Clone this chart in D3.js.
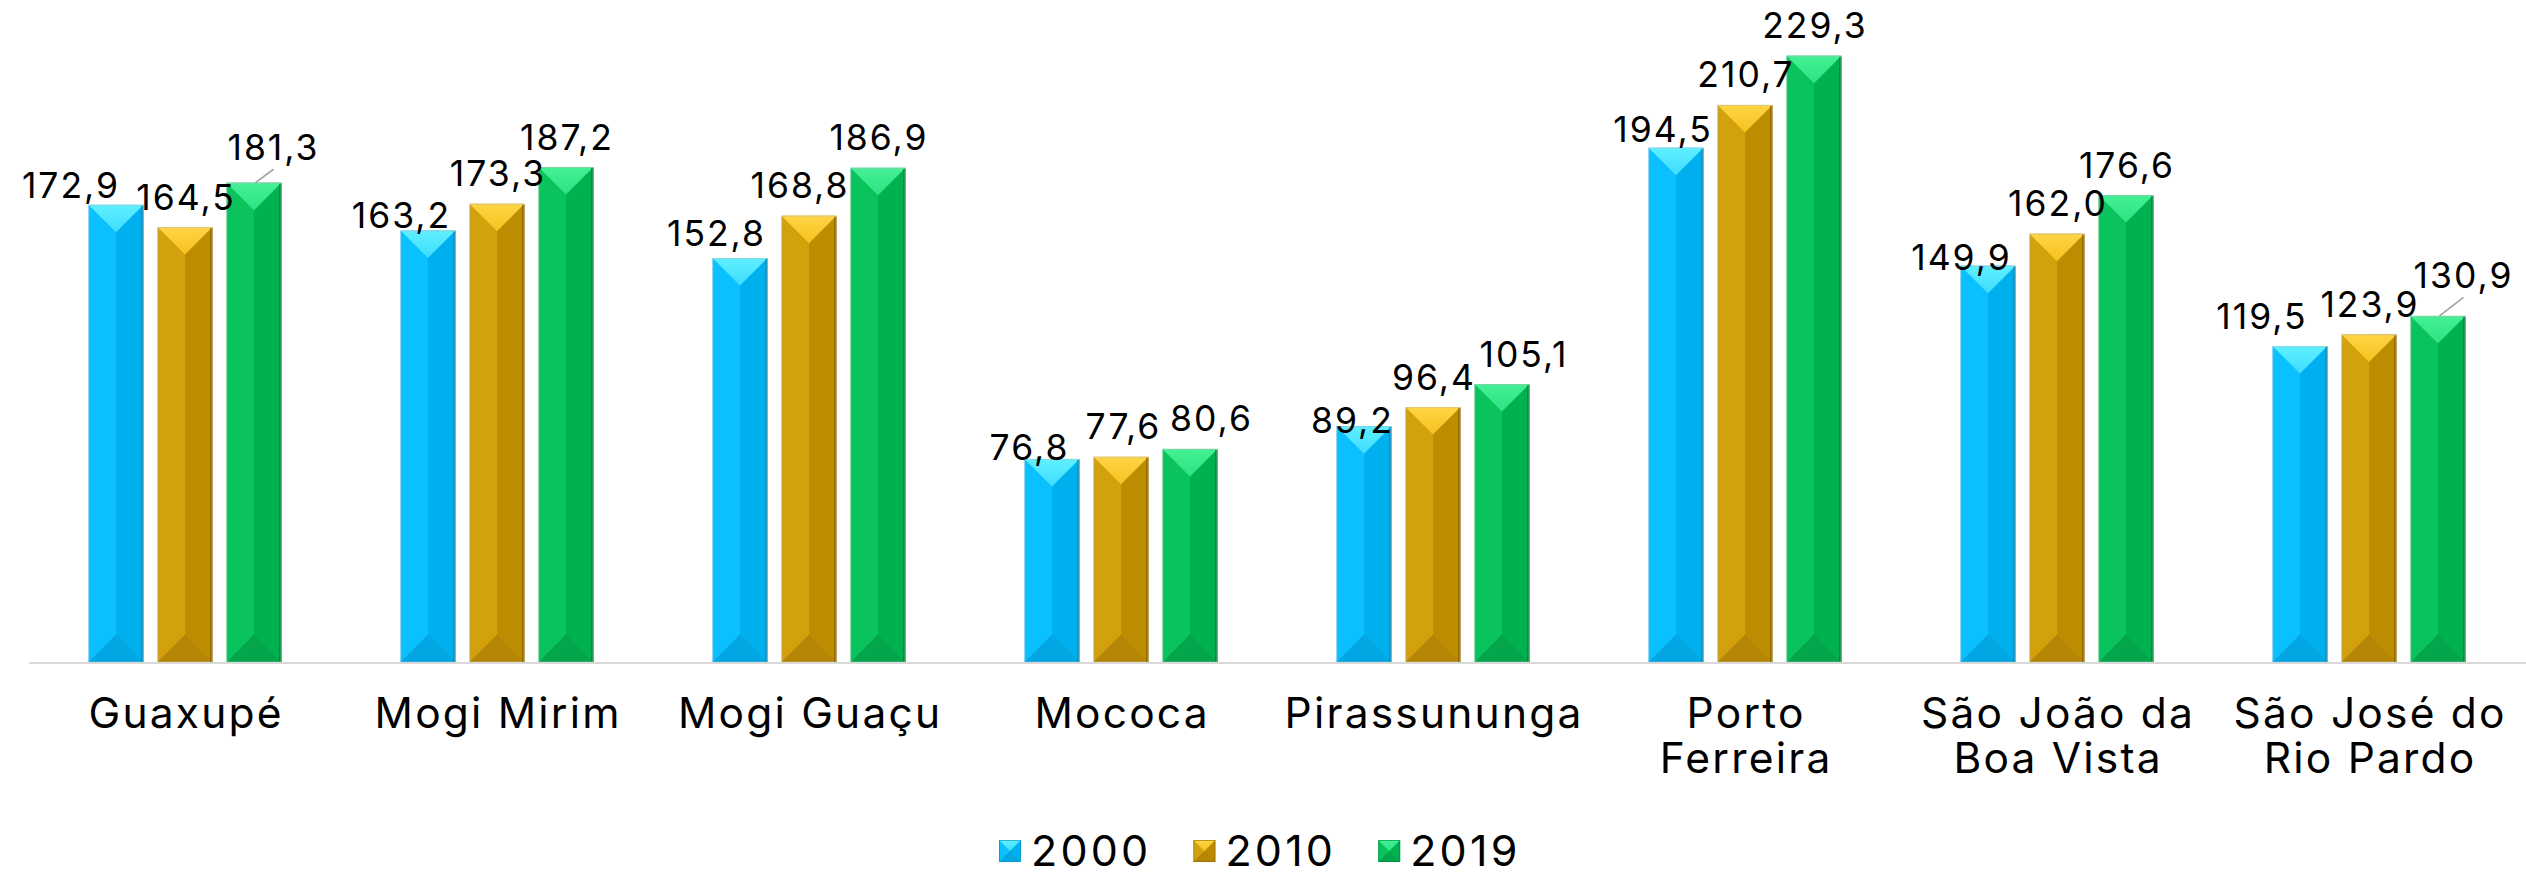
<!DOCTYPE html>
<html>
<head>
<meta charset="utf-8">
<script src="https://cdn.jsdelivr.net/npm/d3@7"></script>
<style>
  html, body { margin: 0; padding: 0; background: #ffffff; }
  svg { display: block; }
  text { font-family: Inter, "Noto Sans", sans-serif; fill: #000; }
</style>
</head>
<body>
<svg id="chart" width="2526" height="875"></svg>
<script>
// ---------------- data ----------------
const categories = ["Guaxupé", "Mogi Mirim", "Mogi Guaçu", "Mococa", "Pirassununga",
                    "Porto Ferreira", "São João da Boa Vista", "São José do Rio Pardo"];
const tickLabels = [["Guaxupé"], ["Mogi Mirim"], ["Mogi Guaçu"], ["Mococa"], ["Pirassununga"],
                    ["Porto", "Ferreira"], ["São João da", "Boa Vista"], ["São José do", "Rio Pardo"]];
const series = ["2000", "2010", "2019"];
const values2000 = [172.9, 163.2, 152.8, 76.8, 89.2, 194.5, 149.9, 119.5];
const values2010 = [164.5, 173.3, 168.8, 77.6, 96.4, 210.7, 162.0, 123.9];
const values2019 = [181.3, 187.2, 186.9, 80.6, 105.1, 229.3, 176.6, 130.9];
const seriesValues = [values2000, values2010, values2019];

// label nudges (dx, dy) away from the default centered position, and leader lines
const labelNudge2000 = [[-46, 10.5], [-27.5, 15], [-24.5, 6], [-23.5, 18.5], [-12.5, 24.5], [-14, 11.3], [-27.5, 21.5], [-39, 0]];
const labelNudge2010 = [[0, 0], [0, 0], [-10, 0], [1.5, 0], [0, 0], [0, 0], [0, 0], [0, 0]];
const labelNudge2019 = [[18.5, -5.3], [0, 0], [0, 0], [20.5, 0], [21, 0], [0, 0], [0, 0], [24.5, -10.5]];
const labelNudges = [labelNudge2000, labelNudge2010, labelNudge2019];
const leaders2019 = [true, false, false, false, false, false, false, true];

// ---------------- styles ----------------
const shades = {
  "2000": { top: "#3fdcff", topHi: "#5ff0ff", left: "#0bc0ff", right: "#00b0ee", bottom: "#02a6e2", edge: "#0a8cbd" },
  "2010": { top: "#f7c21f", topHi: "#ffd445", left: "#d3a10b", right: "#bd8c00", bottom: "#b58606", edge: "#8a6700" },
  "2019": { top: "#2ee283", topHi: "#45f095", left: "#0bc35c", right: "#00b150", bottom: "#03a64b", edge: "#00853a" }
};

const W = 2526, H = 875;
const svg = d3.select("#chart");

const x0 = d3.scaleBand().domain(categories).range([29, 2525]).paddingInner(0).paddingOuter(0);
const x1 = d3.scaleBand().domain(series).range([0, x0.bandwidth()])
  .paddingInner(14 / 69).paddingOuter(0.8623);
const y = d3.scaleLinear().domain([0, 250]).range([662, 1]);

// gradients for the top facets
const defs = svg.append("defs");
series.forEach(s => {
  const g = defs.append("linearGradient").attr("id", "top" + s)
    .attr("x1", 0).attr("y1", 0).attr("x2", 0).attr("y2", 1);
  g.append("stop").attr("offset", "0%").attr("stop-color", shades[s].topHi);
  g.append("stop").attr("offset", "100%").attr("stop-color", shades[s].top);
});

// ---------------- bars ----------------
const rows = [];
categories.forEach((c, i) => {
  series.forEach((s, j) => {
    rows.push({ cat: c, ser: s, i, j, v: seriesValues[j][i], nudge: labelNudges[j][i],
                leader: j === 2 && leaders2019[i] });
  });
});

const gBars = svg.append("g");
const bar = gBars.selectAll("g.bar").data(rows).join("g").attr("class", "bar");

bar.each(function (d) {
  const g = d3.select(this);
  const bx = x0(d.cat) + x1(d.ser);
  const bw = x1.bandwidth();
  const top = y(d.v), bot = y(0);
  const h = bot - top;
  const b = Math.min(bw / 2, h / 2);
  const cx = bx + bw / 2;
  const sh = shades[d.ser];
  g.append("rect").attr("x", bx).attr("y", top).attr("width", bw / 2).attr("height", h).attr("fill", sh.left);
  g.append("rect").attr("x", cx).attr("y", top).attr("width", bw / 2).attr("height", h).attr("fill", sh.right);
  g.append("path").attr("d", `M${bx},${top}L${bx + bw},${top}L${cx},${top + b}Z`).attr("fill", `url(#top${d.ser})`);
  g.append("path").attr("d", `M${bx},${bot}L${bx + bw},${bot}L${cx},${bot - b}Z`).attr("fill", sh.bottom);
  g.append("rect").attr("x", bx + bw - 2.5).attr("y", top + 1).attr("width", 2.5).attr("height", h - 1)
    .attr("fill", sh.edge).attr("opacity", 0.75);
  g.append("rect").attr("x", bx + 0.5).attr("y", top + 0.5).attr("width", bw - 1).attr("height", h - 0.5)
    .attr("fill", "none").attr("stroke", "#b8b8b8").attr("stroke-opacity", 0.45).attr("stroke-width", 1);
});

// axis line
svg.append("line").attr("x1", 29).attr("x2", W).attr("y1", 663).attr("y2", 663)
  .attr("stroke", "#d9d9d9").attr("stroke-width", 2.2);

// ---------------- value labels ----------------
const fmt = v => d3.format(".1f")(v).replace(".", ",");
const gLab = svg.append("g");
rows.forEach(d => {
  const cx = x0(d.cat) + x1(d.ser) + x1.bandwidth() / 2;
  const top = y(d.v);
  const lx = cx + d.nudge[0];
  const ly = top - 17.5 + d.nudge[1];
  if (d.leader) {
    gLab.append("line").attr("x1", cx + 1.5).attr("y1", top)
      .attr("x2", lx + 1).attr("y2", ly + 9.5)
      .attr("stroke", "#a6a6a6").attr("stroke-width", 1.8);
  }
  gLab.append("text").attr("x", lx + 1).attr("y", ly).attr("text-anchor", "middle")
    .attr("font-size", 35.5).attr("letter-spacing", 2).text(fmt(d.v));
});

// ---------------- x axis labels ----------------
const xAxis = d3.axisBottom(x0).tickSize(0).tickFormat("");
const gx = svg.append("g").attr("transform", "translate(0,663)").call(xAxis);
gx.select(".domain").remove();
gx.selectAll(".tick").each(function (c, i) {
  const t = d3.select(this).append("text").attr("text-anchor", "middle").attr("font-size", 42.5)
    .attr("letter-spacing", 2.2).style("fill", "#000");
  tickLabels[i].forEach((line, k) => {
    t.append("tspan").attr("x", 1.1).attr("y", 64.5 + k * 45.4).text(line);
  });
});

// ---------------- legend ----------------
const gLeg = svg.append("g");
let lx = 999;
series.forEach((s, j) => {
  const sh = shades[s];
  const sx = lx, sy = 840, ss = 22;
  gLeg.append("rect").attr("x", sx).attr("y", sy).attr("width", ss / 2).attr("height", ss).attr("fill", sh.left);
  gLeg.append("rect").attr("x", sx + ss / 2).attr("y", sy).attr("width", ss / 2).attr("height", ss).attr("fill", sh.right);
  gLeg.append("path").attr("d", `M${sx},${sy}L${sx + ss},${sy}L${sx + ss / 2},${sy + ss / 2}Z`).attr("fill", `url(#top${s})`);
  gLeg.append("path").attr("d", `M${sx},${sy + ss}L${sx + ss},${sy + ss}L${sx + ss / 2},${sy + ss / 2}Z`).attr("fill", sh.bottom);
  gLeg.append("rect").attr("x", sx + 0.5).attr("y", sy + 0.5).attr("width", ss - 1).attr("height", ss - 1)
    .attr("fill", "none").attr("stroke", sh.edge).attr("stroke-opacity", 0.6);
  const t = gLeg.append("text").attr("x", sx + ss + 10).attr("y", 866).attr("font-size", 43)
    .attr("letter-spacing", 3.2).text(s);
  lx = sx + ss + 10 + t.node().getComputedTextLength() + 42;
});
</script>
</body>
</html>
